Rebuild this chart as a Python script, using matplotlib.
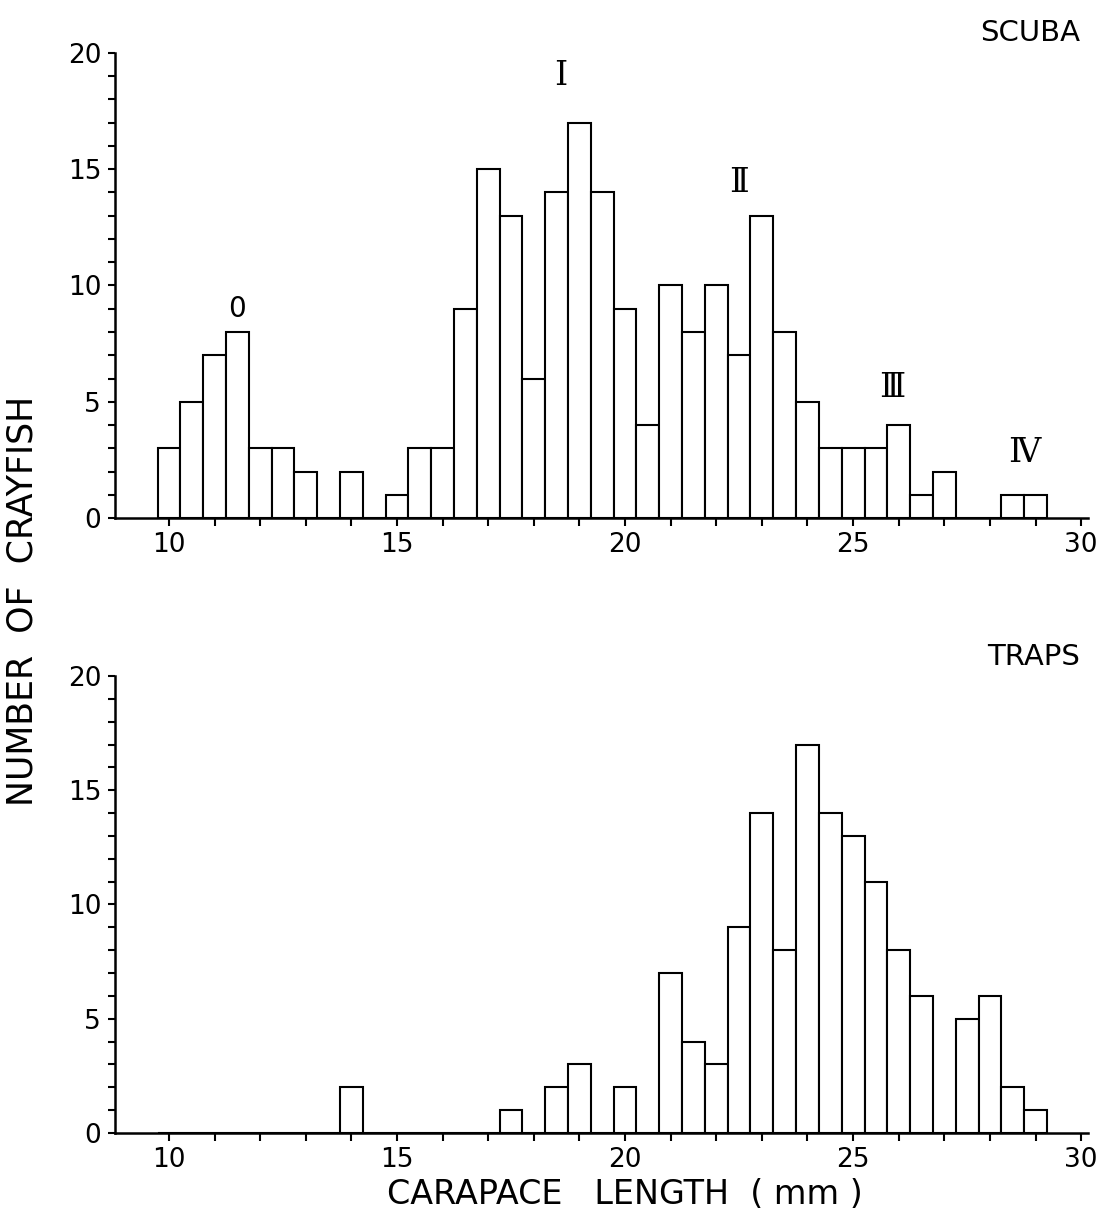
import matplotlib
matplotlib.use("Agg")
import matplotlib.pyplot as plt
import numpy as np

# size classes (mm, bin centres, 0.5 mm wide)
lengths = np.arange(10.0, 29.5, 0.5)

scuba = [3, 5, 7, 8, 3, 3, 2, 0, 2, 0,
         1, 3, 3, 9, 15, 13, 6, 14, 17, 14,
         9, 4, 10, 8, 10, 7, 13, 8, 5, 3,
         3, 3, 4, 1, 2, 0, 0, 1, 1]

traps = [0, 0, 0, 0, 0, 0, 0, 0, 2, 0,
         0, 0, 0, 0, 0, 1, 0, 2, 3, 0,
         2, 0, 7, 4, 3, 9, 14, 8, 17, 14,
         13, 11, 8, 6, 0, 5, 6, 2, 1]

# age-class marks on the scuba panel: (text, x, y)
age_classes = [("0", 11.5, 9.0), ("Ⅰ", 18.6, 19.0), ("Ⅱ", 22.5, 14.4),
               ("Ⅲ", 25.85, 5.6), ("Ⅳ", 28.75, 2.8)]

x_ticks = np.arange(10, 31, 1)
y_ticks = np.arange(0, 21, 1)

plt.rcParams["font.family"] = ["DejaVu Sans"]

fig = plt.figure(figsize=(11.06, 12.18), dpi=100)
ax1 = fig.add_axes([0.104, 0.5747, 0.8797, 0.3818])
ax2 = fig.add_axes([0.104, 0.0698, 0.8797, 0.3752])


def style(ax):
    ax.set_xlim(8.816, 30.15)
    ax.set_ylim(0, 20)
    for s in ["top", "right"]:
        ax.spines[s].set_visible(False)
    ax.spines["left"].set_linewidth(1.8)
    ax.spines["bottom"].set_linewidth(1.8)
    ax.set_xticks(x_ticks)
    ax.set_xticklabels([str(t) if t % 5 == 0 else "" for t in x_ticks])
    ax.set_yticks(y_ticks)
    ax.set_yticklabels([str(t) if t % 5 == 0 else "" for t in y_ticks])
    ax.tick_params(axis="x", direction="out", length=6, width=1.5,
                   labelsize=19, pad=4)
    ax.tick_params(axis="y", direction="out", length=5, width=1.5,
                   labelsize=19, pad=5)


ax1.bar(lengths, scuba, width=0.5, facecolor="white", edgecolor="black",
        linewidth=1.5, zorder=3)
style(ax1)
for txt, x, y in age_classes:
    if txt == "0":
        ax1.text(x, y, txt, ha="center", va="center", fontsize=20)
    else:
        ax1.text(x, y, txt, ha="center", va="center", fontsize=24,
                 family="DejaVu Serif")

ax2.bar(lengths, traps, width=0.5, facecolor="white", edgecolor="black",
        linewidth=1.5, zorder=3)
style(ax2)

fig.text(0.9765, 0.973, "SCUBA", ha="right", va="center", fontsize=21)
fig.text(0.9765, 0.4606, "TRAPS", ha="right", va="center", fontsize=21)
fig.text(0.02, 0.507, "NUMBER  OF  CRAYFISH", rotation=90, ha="center",
         va="center", fontsize=25)
fig.text(0.565, 0.019, "CARAPACE   LENGTH  ( mm )", ha="center",
         va="center", fontsize=24)

fig.savefig("out.png", dpi=100)
